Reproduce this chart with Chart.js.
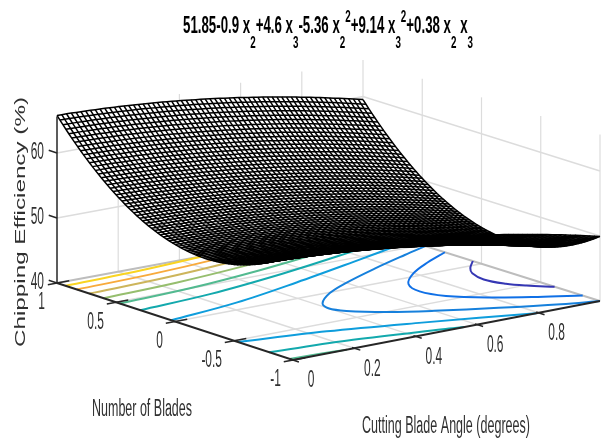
<!DOCTYPE html>
<html>
<head>
<meta charset="utf-8">
<title>Chipping Efficiency</title>
<script src="https://cdn.jsdelivr.net/npm/chart.js@4"></script>
<style>
  html, body { margin: 0; padding: 0; background: #fff; }
  canvas { display: block; }
</style>
</head>
<body>
<canvas id="grafico" width="610" height="444"></canvas>
<script>
// tick values of the three axes
const angleTicks = [0, 0.2, 0.4, 0.6, 0.8];
const bladeTicks = [-1, -0.5, 0, 0.5, 1];
const effTicks = [40, 50, 60];
const angleGrid = [0.2, 0.4, 0.6, 0.8];
const bladeGrid = [-0.5, 0, 0.5];

// surface mesh: height along the angle direction (65 wires, blades = 0)
const angleProfile = [51.85, 51.83, 51.82, 51.80, 51.77, 51.75, 51.72, 51.69, 51.65, 51.62, 51.58, 51.54, 51.49, 51.45, 51.40, 51.34, 51.29,
  51.23, 51.17, 51.11, 51.05, 50.98, 50.91, 50.83, 50.76, 50.68, 50.60, 50.52, 50.43, 50.34, 50.25, 50.16, 50.06, 49.96, 49.86, 49.75, 49.65,
  49.54, 49.43, 49.31, 49.19, 49.07, 48.95, 48.83, 48.70, 48.57, 48.43, 48.30, 48.16, 48.02, 47.88, 47.73, 47.58, 47.43, 47.27, 47.12, 46.96,
  46.80, 46.63, 46.47, 46.30, 46.12, 45.95, 45.77, 45.59];
// rise or drop of the surface along the blades direction (81 wires, -1 to 1)
const bladeProfile = [4.35, 4.02, 3.70, 3.39, 3.09, 2.81, 2.53, 2.27, 2.02, 1.78, 1.55, 1.33, 1.13, 0.93, 0.75, 0.58, 0.42, 0.27, 0.13, 0.00,
  -0.11, -0.21, -0.30, -0.38, -0.45, -0.51, -0.56, -0.59, -0.61, -0.63, -0.63, -0.62, -0.59, -0.56, -0.51, -0.46, -0.39, -0.31, -0.22, -0.11,
  0, 0.13, 0.26, 0.41, 0.57, 0.74, 0.92, 1.12, 1.32, 1.54, 1.77, 2.01, 2.26, 2.52, 2.80, 3.08, 3.38, 3.69, 4.01, 4.34,
  4.68, 5.03, 5.40, 5.78, 6.16, 6.56, 6.98, 7.40, 7.83, 8.28, 8.73, 9.20, 9.68, 10.17, 10.68, 11.19, 11.71, 12.25, 12.80, 13.36, 13.93];

// contours on the floor, [angle, blades] pairs read per level
const contourLevels = [64, 62, 60, 58, 56, 54, 52, 50, 48, 46];
const contourColors = ['#f9d422', '#f8aa3c', '#cdb55b', '#96be6e', '#52ba90', '#13a9ad', '#0e9ddc', '#1680dc', '#1070e6', '#3537b4'];
const contourUpper = [
  [[0, 0.928], [0.25, 0.95], [0.5, 1]],
  [[0, 0.832], [0.25, 0.856], [0.5, 0.911], [0.76, 1]],
  [[0, 0.726], [0.25, 0.752], [0.5, 0.813], [0.75, 0.902], [0.97, 1]],
  [[0, 0.606], [0.25, 0.638], [0.5, 0.706], [0.75, 0.804], [1, 0.924]],
  [[0, 0.468], [0.25, 0.505], [0.5, 0.586], [0.75, 0.697], [1, 0.829]],
  [[0, 0.295], [0.25, 0.345], [0.5, 0.445], [0.75, 0.576], [1, 0.725]],
  [[0, 0.031], [0.25, 0.122], [0.5, 0.268], [0.75, 0.434], [1, 0.608]],
  [[1, 0.474], [0.9, 0.389], [0.75, 0.255], [0.6, 0.107], [0.5, -0.013], [0.42, -0.159], [0.4, -0.26], [0.42, -0.361], [0.5, -0.511], [0.6, -0.635], [0.75, -0.79], [0.9, -0.929], [1, -1]],
  [[1, 0.309], [0.9, 0.194], [0.8, 0.056], [0.72, -0.108], [0.695, -0.267], [0.72, -0.425], [0.8, -0.592], [0.9, -0.734], [1, -0.854]],
  [[1, 0.073], [0.95, -0.035], [0.92, -0.129], [0.903, -0.27], [0.92, -0.413], [0.95, -0.508], [1, -0.617]]
];
const contourLower = [
  [], [], [], [],
  [[0, -0.971], [0.1, -0.984], [0.176, -1]],
  [[0, -0.798], [0.25, -0.859], [0.5, -0.969], [0.559, -1]],
  [[0, -0.534], [0.25, -0.636], [0.5, -0.792], [0.793, -1]],
  [], [], []
];

const titulo = [['51.85-0.9 x', 0], ['2', 1], ['+4.6 x', 0], ['3', 1], ['-5.36 x', 0], ['2', 1], ['2', -1], ['+9.14 x', 0], ['3', 1], ['2', -1], ['+0.38 x', 0], ['2', 1], [' x', 0], ['3', 1]];

const Z_MIN = 40, Z_TOP = 65.6;

// view of the box: floor corners on screen, z pixels per unit
const esqFrente = [293, 360], esqDer = [600, 301], esqFondo = [363, 226.5], esqIzq = [57, 283];
function proyectar(angle, blades, z) {
  let u = angle, v = (blades + 1) / 2;
  let px = esqFrente[0] * (1 - u) * (1 - v) + esqDer[0] * u * (1 - v) + esqFondo[0] * u * v + esqIzq[0] * (1 - u) * v;
  let py = esqFrente[1] * (1 - u) * (1 - v) + esqDer[1] * u * (1 - v) + esqFondo[1] * u * v + esqIzq[1] * (1 - u) * v;
  return { x: px, y: py - (z - Z_MIN) * 6.5 };
}

let datasets = [];
function linea(puntos, color, ancho, extra) {
  datasets.push(Object.assign({ data: puntos, showLine: true, borderColor: color, borderWidth: ancho, pointRadius: 0, fill: false, tension: 0 }, extra || {}));
}

// grid on floor and walls
const GRIS = '#dcdcdc';
angleGrid.forEach(a => {
  linea([proyectar(a, -1, Z_MIN), proyectar(a, 1, Z_MIN)], GRIS, 1.5);
  linea([proyectar(a, 1, Z_MIN), proyectar(a, 1, Z_TOP)], GRIS, 1.2);
});
bladeGrid.forEach(b => {
  linea([proyectar(0, b, Z_MIN), proyectar(1, b, Z_MIN)], GRIS, 1.5);
  linea([proyectar(1, b, Z_MIN), proyectar(1, b, Z_TOP)], GRIS, 1.2);
});
effTicks.slice(1).forEach(z => {
  linea([proyectar(0, 1, z), proyectar(1, 1, z), proyectar(1, -1, z)], GRIS, 1.5);
});
linea([proyectar(1, 1, Z_MIN), proyectar(1, 1, Z_TOP)], GRIS, 1.2);
linea([proyectar(1, -1, Z_MIN), proyectar(1, -1, Z_TOP)], GRIS, 1.2);
linea([proyectar(0, 1, Z_MIN), proyectar(1, 1, Z_MIN), proyectar(1, -1, Z_MIN)], '#bdbdbd', 2);

// contours
contourLevels.forEach((nivel, i) => {
  [contourUpper[i], contourLower[i]].forEach(tramo => {
    if (tramo.length) linea(tramo.map(p => proyectar(p[0], p[1], Z_MIN)), contourColors[i], 2, { tension: 0.35 });
  });
});

// surface: white faces first, then the black wires
const pasoAngulo = 1 / (angleProfile.length - 1), pasoAspas = 2 / (bladeProfile.length - 1);
function altura(i, j) { return angleProfile[i] + bladeProfile[j]; }
function puntoMalla(i, j) { return proyectar(i * pasoAngulo, -1 + j * pasoAspas, altura(i, j)); }
for (let j = 0; j < bladeProfile.length - 1; j++) {
  let tira = [];
  for (let i = 0; i < angleProfile.length; i++) tira.push(puntoMalla(i, j));
  for (let i = angleProfile.length - 1; i >= 0; i--) tira.push(puntoMalla(i, j + 1));
  tira.push(tira[0]);
  datasets.push({ data: tira, showLine: true, borderWidth: 0, borderColor: 'rgba(0,0,0,0)', backgroundColor: '#fff', pointRadius: 0, fill: 'shape' });
}
for (let j = 0; j < bladeProfile.length; j++) {
  let fila = [];
  for (let i = 0; i < angleProfile.length; i++) fila.push(puntoMalla(i, j));
  linea(fila, '#000', 1.5);
}
for (let i = 0; i < angleProfile.length; i++) {
  let col = [];
  for (let j = 0; j < bladeProfile.length; j++) col.push(puntoMalla(i, j));
  linea(col, '#000', 1.5);
}

// axes and ticks
const OSCURO = '#262626';
linea([proyectar(0, 1, Z_MIN), proyectar(0, -1, Z_MIN), proyectar(1, -1, Z_MIN)], OSCURO, 2);
linea([proyectar(0, 1, Z_MIN), proyectar(0, 1, Z_TOP)], OSCURO, 1.5);
angleTicks.forEach(a => linea([proyectar(a, -1.05, Z_MIN), proyectar(a, -0.98, Z_MIN)], OSCURO, 1.5));
bladeTicks.forEach(b => linea([proyectar(-0.03, b, Z_MIN), proyectar(0.04, b, Z_MIN)], OSCURO, 1.5));
effTicks.forEach(z => linea([proyectar(0, 1.07, z), proyectar(0, 1, z)], OSCURO, 1.5));

// chart.js paints the first dataset on top, so flip the painting order
datasets.reverse();

function texto(ctx, str, x, y, ajuste) {
  ctx.save();
  ctx.font = ajuste.font;
  ctx.fillStyle = ajuste.color || '#303030';
  ctx.textAlign = ajuste.align || 'center';
  ctx.textBaseline = ajuste.base || 'middle';
  ctx.translate(x, y);
  ctx.scale(ajuste.sx, ajuste.sy || 1);
  if (ajuste.rot) ctx.rotate(ajuste.rot);
  ctx.fillText(str, 0, 0);
  ctx.restore();
}

const rotulos = {
  id: 'rotulos',
  afterDraw(chart) {
    const ctx = chart.ctx;
    const tick = { font: '23px "Liberation Sans"', sx: 0.52, align: 'right' };
    effTicks.forEach(z => { let p = proyectar(0, 1, z); texto(ctx, String(z), p.x - 13, p.y, tick); });
    bladeTicks.forEach(b => { let p = proyectar(0, b, Z_MIN); texto(ctx, String(b), p.x - 12, p.y + 20, tick); });
    angleTicks.forEach(a => { let p = proyectar(a, -1, Z_MIN); texto(ctx, String(a), p.x + 18, p.y + 21, { font: tick.font, sx: tick.sx }); });

    // axis labels squeezed to the reference's proportions
    ctx.font = '23px "Liberation Sans"';
    let w1 = ctx.measureText('Number of Blades').width;
    texto(ctx, 'Number of Blades', 142, 410, { font: ctx.font, sx: 100 / w1 });
    let w2 = ctx.measureText('Cutting Blade Angle (degrees)').width;
    texto(ctx, 'Cutting Blade Angle (degrees)', 446, 427, { font: ctx.font, sx: 168 / w2 });
    ctx.font = '20px "Liberation Sans"';
    let w3 = ctx.measureText('Chipping Efficiency (%)').width;
    texto(ctx, 'Chipping Efficiency (%)', 21, 222, { font: ctx.font, sx: 0.75, sy: 250 / w3, rot: -Math.PI / 2 });

    // title with sub and superscripts
    const fuente = { 0: 'bold 23px "Liberation Sans"', 1: 'bold 17px "Liberation Sans"', '-1': 'bold 17px "Liberation Sans"' };
    const base = { 0: 33, 1: 48, '-1': 22 };
    let total = 0;
    titulo.forEach(s => { ctx.font = fuente[s[1]]; total += ctx.measureText(s[0]).width; });
    let escala = 290 / total, cursor = 183;
    titulo.forEach(s => {
      ctx.font = fuente[s[1]];
      let ancho = ctx.measureText(s[0]).width;
      texto(ctx, s[0], cursor, base[s[1]], { font: fuente[s[1]], sx: escala, align: 'left', base: 'alphabetic', color: '#000' });
      cursor += ancho * escala;
    });
  }
};

new Chart(document.getElementById('grafico').getContext('2d'), {
  type: 'scatter',
  data: { datasets: datasets },
  options: {
    responsive: false,
    animation: false,
    events: [],
    layout: { padding: 0 },
    plugins: { legend: { display: false }, tooltip: { enabled: false }, title: { display: false } },
    scales: {
      x: { type: 'linear', display: false, min: 0, max: 610 },
      y: { type: 'linear', display: false, min: 0, max: 444, reverse: true }
    }
  },
  plugins: [rotulos]
});
</script>
</body>
</html>
